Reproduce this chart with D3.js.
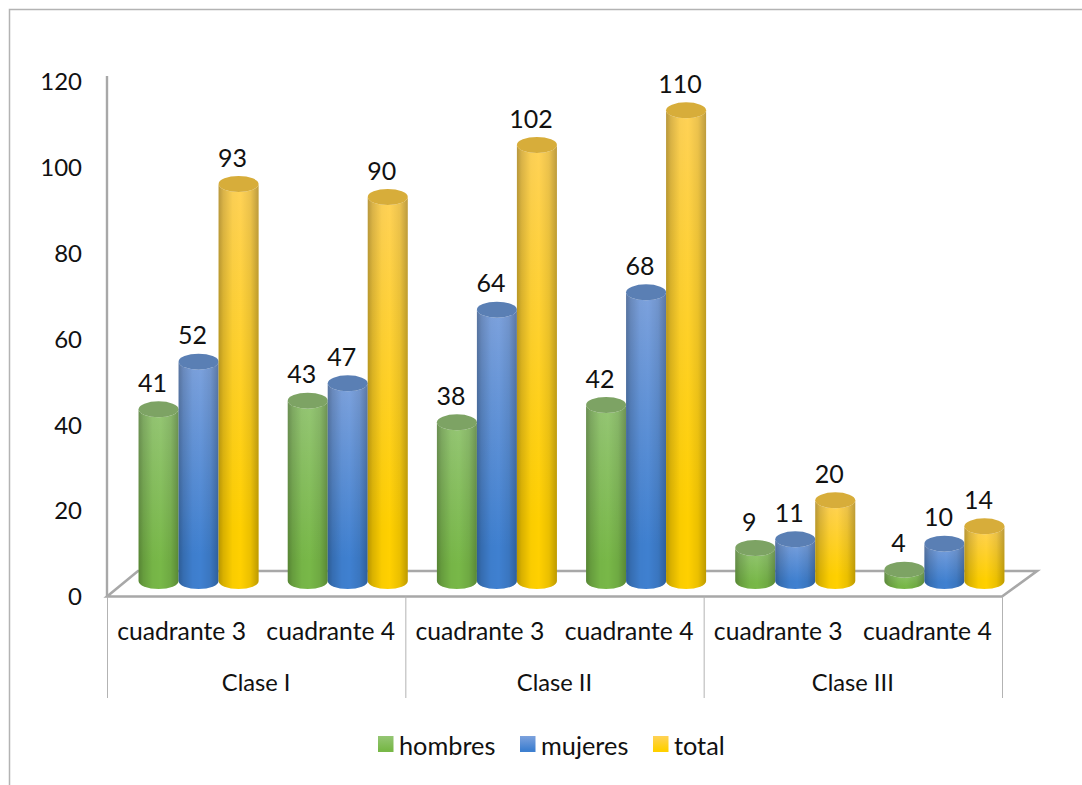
<!DOCTYPE html>
<html>
<head>
<meta charset="utf-8">
<script src="https://cdn.jsdelivr.net/npm/d3@7"></script>
<style>
  html, body { margin: 0; padding: 0; background: #fff; overflow: hidden; }
  text { font-family: Lato, "Open Sans", sans-serif; fill: #111; }
</style>
</head>
<body>
<svg id="chart"></svg>
<script>
const clases = ['Clase I', 'Clase II', 'Clase III'];
const cuadrantes = ['cuadrante 3', 'cuadrante 4'];
const seriesNames = ['hombres', 'mujeres', 'total'];
const hombres = [41, 43, 38, 42, 9, 4];
const mujeres = [52, 47, 64, 68, 11, 10];
const total = [93, 90, 102, 110, 20, 14];
const yTicks = [0, 20, 40, 60, 80, 100, 120];

const seriesValues = [hombres, mujeres, total];
const keys = clases.flatMap(c => cuadrantes.map(q => c + '|' + q));

const colors = {
  hombres: { top: '#95c674', bottom: '#78b848', cap: '#7da364' },
  mujeres: { top: '#7da2dd', bottom: '#3f80d0', cap: '#5a7fb4' },
  total: { top: '#ffd257', bottom: '#ffd000', cap: '#d7ad3a' }
};

const width = 1082, height = 785;
const axisColor = '#a8a8a8';

const svg = d3.select('#chart').attr('width', width).attr('height', height);
const defs = svg.append('defs');

// front edge of the floor, x positions of the axis
const floor = { left: 107, right: 1002, front: 596.5, back: 571, depthX: 35, depthY: 25.5 };

// axis labels and cylinders use different scales because of the 3d depth offset
const yAxisScale = d3.scaleLinear().domain([0, 120]).range([597, 82]);
const yBar = d3.scaleLinear().domain([0, 120]).range([587, 67]);
const xOuter = d3.scaleBand().domain(keys).range([floor.left, floor.right]);
const xGroup = d3.scaleBand().domain(clases).range([floor.left, floor.right]);
const xInner = d3.scaleBand().domain(seriesNames).range([0, 120]);
const barShift = 17;
const labelShift = -6;
const baseY = 581;
const ry = 8;

// outer frame runs off the right and bottom of the page
svg.append('path')
  .attr('d', `M9.5,${height}V9.5H${width}`)
  .attr('fill', 'none')
  .attr('stroke', '#b3b3b3')
  .attr('stroke-width', 1.5);

// gradients
seriesNames.forEach(name => {
  const g = defs.append('linearGradient')
    .attr('id', 'body-' + name)
    .attr('x1', 0).attr('x2', 0).attr('y1', 0).attr('y2', 1);
  g.append('stop').attr('offset', 0).attr('stop-color', colors[name].top);
  g.append('stop').attr('offset', 0.85).attr('stop-color', colors[name].bottom);
  g.append('stop').attr('offset', 1).attr('stop-color', colors[name].bottom);
});
const shade = defs.append('linearGradient').attr('id', 'shade');
[[0, 0.28], [0.12, 0.15], [0.35, 0.02], [0.55, 0], [0.8, 0.08], [1, 0.26]].forEach(s => {
  shade.append('stop').attr('offset', s[0]).attr('stop-color', '#000').attr('stop-opacity', s[1]);
});

// floor of the 3d box
svg.append('path')
  .attr('d', `M${floor.left},${floor.front}L${floor.left + floor.depthX - 4},${floor.back}H${floor.right + floor.depthX}L${floor.right},${floor.front}Z`)
  .attr('fill', '#fff')
  .attr('stroke', axisColor)
  .attr('stroke-width', 2.6);

// y axis
const yAxisG = svg.append('g')
  .attr('transform', `translate(${floor.left},0)`)
  .call(d3.axisLeft(yAxisScale).tickValues(yTicks).tickSize(0).tickPadding(25));
yAxisG.select('.domain').remove();
yAxisG.selectAll('text')
  .style('font-family', 'Lato, "Open Sans", sans-serif')
  .style('font-size', '24px')
  .attr('fill', '#111');
svg.append('line')
  .attr('x1', floor.left).attr('x2', floor.left)
  .attr('y1', 76).attr('y2', floor.front)
  .attr('stroke', axisColor).attr('stroke-width', 2.4);

// separators of the two level category axis
svg.append('g').selectAll('line')
  .data(clases.map(c => xGroup(c)).concat(floor.right))
  .join('line')
  .attr('x1', d => d + 0.5).attr('x2', d => d + 0.5)
  .attr('y1', floor.front).attr('y2', 698)
  .attr('stroke', '#b3b3b3').attr('stroke-width', 1);

svg.append('g').selectAll('text')
  .data(keys)
  .join('text')
  .attr('x', d => xOuter(d) + xOuter.bandwidth() / 2)
  .attr('y', 631)
  .attr('dy', '0.35em')
  .attr('text-anchor', 'middle')
  .style('font-size', '24.7px')
  .text(d => d.split('|')[1]);

svg.append('g').selectAll('text')
  .data(clases)
  .join('text')
  .attr('x', d => xGroup(d) + xGroup.bandwidth() / 2)
  .attr('y', 683)
  .attr('dy', '0.35em')
  .attr('text-anchor', 'middle')
  .style('font-size', '23.7px')
  .text(d => d);

// cylinders
function cylinderBody(x, w, top) {
  const rx = w / 2;
  return `M${x},${top}V${baseY}A${rx},${ry} 0 0 0 ${x + w},${baseY}V${top}A${rx},${ry} 0 0 1 ${x},${top}Z`;
}

const barData = keys.flatMap((k, i) => seriesNames.map((name, s) => ({
  key: k, name: name, value: seriesValues[s][i]
})));

const bars = svg.append('g').selectAll('g')
  .data(barData)
  .join('g')
  .attr('transform', d => `translate(${xOuter(d.key) + barShift + (xOuter.bandwidth() - 120) / 2 + xInner(d.name)},0)`);

bars.append('path')
  .attr('d', d => cylinderBody(0, xInner.bandwidth(), yBar(d.value)))
  .attr('fill', d => `url(#body-${d.name})`);
bars.append('path')
  .attr('d', d => cylinderBody(0, xInner.bandwidth(), yBar(d.value)))
  .attr('fill', 'url(#shade)');
bars.append('ellipse')
  .attr('cx', xInner.bandwidth() / 2)
  .attr('cy', d => yBar(d.value))
  .attr('rx', xInner.bandwidth() / 2)
  .attr('ry', ry)
  .attr('fill', d => colors[d.name].cap);

// value labels, drawn last so no cylinder covers them
svg.append('g').selectAll('text')
  .data(barData)
  .join('text')
  .attr('x', d => xOuter(d.key) + barShift + labelShift + (xOuter.bandwidth() - 120) / 2 + xInner(d.name) + xInner.bandwidth() / 2)
  .attr('y', d => yBar(d.value) - 26)
  .attr('dy', '0.35em')
  .attr('text-anchor', 'middle')
  .style('font-size', '25px')
  .text(d => d.value);

// legend
const legendX = d3.scaleOrdinal().domain(seriesNames).range([378, 520, 653]);
const legend = svg.append('g').selectAll('g')
  .data(seriesNames)
  .join('g')
  .attr('transform', d => `translate(${legendX(d)},736)`);
legend.append('rect')
  .attr('width', 15.5).attr('height', 16)
  .attr('fill', d => `url(#body-${d})`);
legend.append('text')
  .attr('x', 21)
  .attr('y', 10)
  .attr('dy', '0.35em')
  .style('font-size', '25.3px')
  .text(d => d);
</script>
</body>
</html>
